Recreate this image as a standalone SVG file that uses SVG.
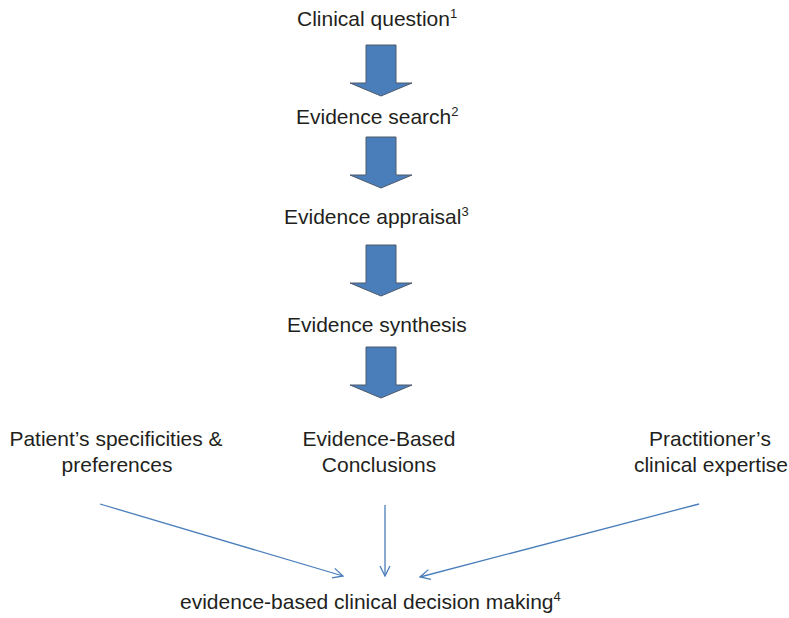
<svg xmlns="http://www.w3.org/2000/svg" width="789" height="618" viewBox="0 0 789 618">
<style>
text{font-family:"Liberation Sans",Arial,sans-serif;font-size:21px;fill:#231f20}
.sup{font-size:13px}
.blk{fill:#4a7ebb;stroke:#4d5a6a;stroke-width:1}
.con{stroke:#4a7ebb;stroke-width:1.3;fill:none}
</style>
<defs>
<marker id="ah" viewBox="0 0 12 12" refX="11" refY="6" markerWidth="12" markerHeight="12" markerUnits="userSpaceOnUse" orient="auto">
<path d="M1,1 L11,6 L1,11" fill="none" stroke="#4a7ebb" stroke-width="1.3"/>
</marker>
<path id="barrow" d="M366,0 H396 V38 H412 L381,51 L350,38 H366 Z"/>
</defs>
<rect width="789" height="618" fill="#fff"/>
<g id="n1"><text x="297" y="26">Clinical question<tspan class="sup" dy="-8">1</tspan></text></g>
<g id="n2"><text x="296" y="124">Evidence search<tspan class="sup" dy="-8">2</tspan></text></g>
<g id="n3"><text x="284" y="224">Evidence appraisal<tspan class="sup" dy="-8">3</tspan></text></g>
<g id="n4"><text x="287" y="332">Evidence synthesis</text></g>
<g id="n5"><text x="116" y="446" text-anchor="middle">Patient’s specificities &amp;</text><text x="117" y="472" text-anchor="middle">preferences</text></g>
<g id="n6"><text x="379" y="446" text-anchor="middle">Evidence-Based</text><text x="379" y="472" text-anchor="middle">Conclusions</text></g>
<g id="n7"><text x="710" y="446" text-anchor="middle">Practitioner’s</text><text x="711" y="472" text-anchor="middle">clinical expertise</text></g>
<g id="n8"><text x="180" y="609">evidence-based clinical decision making<tspan class="sup" dy="-8">4</tspan></text></g>
<g id="connectors">
<use href="#barrow" class="blk" transform="translate(0,45)"/>
<use href="#barrow" class="blk" transform="translate(0,137)"/>
<use href="#barrow" class="blk" transform="translate(0,245)"/>
<use href="#barrow" class="blk" transform="translate(0,347)"/>
<line class="con" x1="100" y1="504" x2="343" y2="576" marker-end="url(#ah)"/>
<line class="con" x1="385" y1="505" x2="385" y2="576" marker-end="url(#ah)"/>
<line class="con" x1="699" y1="504" x2="420" y2="577" marker-end="url(#ah)"/>
</g>
</svg>
